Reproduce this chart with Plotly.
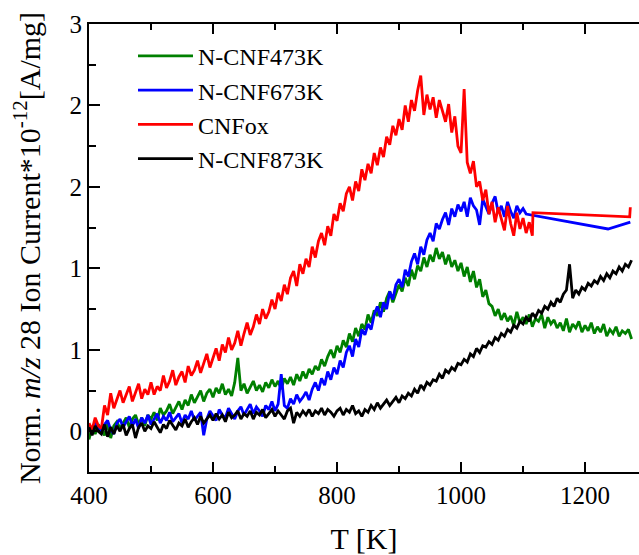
import plotly.graph_objects as go

# ---- data ----
T_START = 400
T_STEP = 5

red_cnfox = [
    0.06, 0.01, 0.10, 0.04, 0.02, 0.19, 0.12, 0.28, 0.17, 0.24,
    0.30, 0.21, 0.27, 0.33, 0.22, 0.29, 0.35, 0.24, 0.31, 0.27,
    0.36, 0.27, 0.33, 0.30, 0.41, 0.32, 0.37, 0.45, 0.34, 0.40,
    0.44, 0.36, 0.48, 0.41, 0.45, 0.52, 0.43, 0.50, 0.57, 0.47,
    0.55, 0.61, 0.52, 0.64, 0.58, 0.69, 0.60, 0.65, 0.74, 0.63,
    0.72, 0.80, 0.71, 0.77, 0.86, 0.79, 0.90, 0.83, 0.88, 0.97,
    0.90, 1.02, 0.96, 1.08, 1.01, 1.13, 1.18, 1.07, 1.23, 1.16,
    1.27, 1.21, 1.36, 1.28, 1.40, 1.46, 1.37, 1.51, 1.44, 1.60,
    1.55, 1.68, 1.62, 1.75, 1.80, 1.70, 1.84, 1.77, 1.93, 1.85,
    1.97, 1.90, 2.05, 1.96, 2.09, 2.02, 2.17, 2.11, 2.25, 2.18,
    2.30, 2.22, 2.40, 2.28, 2.44, 2.36, 2.51, 2.62, 2.33, 2.48,
    2.37, 2.46, 2.31, 2.44, 2.36, 2.28, 2.41, 2.20, 2.32, 2.10,
    2.05, 2.52, 1.98, 1.90, 1.99, 1.80, 1.84, 1.70, 1.78, 1.60,
    1.69, 1.54, 1.65, 1.57, 1.48, 1.66, 1.53, 1.44, 1.61, 1.49,
    1.57, 1.46, 1.54, 1.44,
]
red_tail_T = [1116, 1272, 1273]
red_tail_v = [1.61, 1.58, 1.65]

blue_673 = [
    0.04, -0.01, 0.07, 0.02, 0.00, 0.05, 0.08, 0.01, -0.02, 0.06,
    0.09, 0.03, 0.07, 0.11, 0.04, 0.09, 0.02, 0.10, 0.06, 0.12,
    0.05, 0.09, 0.13, 0.06, 0.11, 0.08, 0.14, 0.07, 0.10, 0.13,
    0.06, 0.12, 0.09, 0.15, 0.08, 0.11, 0.14, -0.03, 0.09, 0.15,
    0.11, 0.08, 0.16, 0.12, 0.10, 0.17, 0.13, 0.09, 0.15, 0.18,
    0.12, 0.16, 0.20, 0.13, 0.18, 0.15, 0.11, 0.19, 0.16, 0.22,
    0.15, 0.20, 0.42, 0.19, 0.17, 0.24, 0.20, 0.27, 0.22, 0.25,
    0.29, 0.23, 0.31, 0.36, 0.30, 0.39, 0.34, 0.44, 0.38, 0.47,
    0.42, 0.52, 0.47, 0.58, 0.63, 0.55, 0.68, 0.62, 0.75, 0.71,
    0.79, 0.75, 0.86, 0.92, 0.84, 0.95, 0.90, 1.03, 0.97, 1.08,
    1.12, 1.06, 1.19, 1.14, 1.25, 1.31, 1.23, 1.36, 1.30, 1.41,
    1.46, 1.40, 1.53, 1.49, 1.56, 1.61, 1.52, 1.64, 1.58, 1.67,
    1.62, 1.69, 1.58, 1.72, 1.66, 1.63, 1.52, 1.71, 1.65, 1.60,
    1.68, 1.73, 1.61, 1.66, 1.58, 1.69, 1.62, 1.57, 1.66, 1.61,
    1.64, 1.60,
]
blue_tail_T = [1237, 1273]
blue_tail_v = [1.49, 1.54]

green_473 = [
    -0.06, 0.03, -0.02, 0.05, 0.01, -0.03, 0.06, -0.05, 0.04, 0.07,
    0.02, 0.06, 0.10, 0.03, 0.09, 0.12, 0.05, 0.10, 0.04, 0.12,
    0.09, 0.14, 0.08, 0.17, 0.12, 0.15, 0.20, 0.13, 0.18, 0.22,
    0.16, 0.23, 0.19, 0.27, 0.21, 0.25, 0.30, 0.22, 0.28, 0.31,
    0.25, 0.32, 0.28, 0.35, 0.27, 0.31, 0.26, 0.36, 0.54, 0.30,
    0.35, 0.28, 0.33, 0.37, 0.30, 0.34, 0.29, 0.36, 0.32, 0.38,
    0.33, 0.37, 0.31, 0.39, 0.35, 0.40, 0.34, 0.42, 0.37, 0.44,
    0.39, 0.46, 0.42, 0.48, 0.45, 0.53, 0.48, 0.55, 0.60, 0.54,
    0.63, 0.58, 0.67, 0.62, 0.72, 0.66, 0.76, 0.70, 0.79, 0.75,
    0.86, 0.80, 0.89, 0.85, 0.95, 0.88, 0.98, 1.03, 0.95, 1.02,
    1.08, 1.03, 1.13, 1.07, 1.19, 1.12, 1.22, 1.18, 1.28, 1.21,
    1.30, 1.25, 1.35, 1.27, 1.32, 1.23, 1.30, 1.21, 1.26, 1.18,
    1.24, 1.14, 1.21, 1.10, 1.18, 1.06, 1.12, 0.99, 1.04, 0.94,
    0.92, 0.85, 0.90, 0.82, 0.87, 0.81, 0.85, 0.78, 0.88, 0.80,
    0.84, 0.79, 0.86, 0.77, 0.83, 0.81, 0.86, 0.76, 0.84, 0.79,
    0.82, 0.76, 0.80, 0.74, 0.83, 0.73, 0.79, 0.76, 0.81, 0.73,
    0.78, 0.74, 0.80, 0.72, 0.77, 0.73, 0.79, 0.70, 0.75, 0.72,
    0.77, 0.70, 0.74, 0.72, 0.75, 0.68,
]

black_873 = [
    0.03, -0.03, 0.04, 0.00, -0.02, 0.05, -0.04, 0.03, -0.02, 0.04,
    0.00, 0.05, -0.03, 0.02, 0.05, -0.05, 0.03, 0.06, 0.00, 0.04,
    0.02, 0.07, 0.03, -0.01, 0.05, 0.02, 0.08, 0.04, 0.01, 0.06,
    0.04, 0.09, 0.03, 0.07, 0.10, 0.05, 0.11, 0.06, 0.09, 0.12,
    0.08, 0.13, 0.09, 0.12, 0.07, 0.14, 0.10, 0.12, 0.15, 0.09,
    0.13, 0.11, 0.15, 0.09, 0.14, 0.12, 0.16, 0.10, 0.13, 0.16,
    0.11, 0.15, 0.12, 0.09, 0.15, 0.17, 0.06, 0.14, 0.11, 0.15,
    0.12, 0.16, 0.11, 0.15, 0.13, 0.17, 0.12, 0.16, 0.14, 0.11,
    0.15, 0.17, 0.12, 0.16, 0.14, 0.19, 0.13, 0.15, 0.11, 0.16,
    0.14, 0.19, 0.16, 0.21, 0.17, 0.20, 0.23, 0.19, 0.22, 0.25,
    0.21, 0.26, 0.24, 0.28, 0.26, 0.31, 0.28, 0.34, 0.31, 0.36,
    0.34, 0.38, 0.37, 0.42, 0.39, 0.45, 0.43, 0.47, 0.45, 0.50,
    0.49, 0.53, 0.51, 0.57, 0.55, 0.61, 0.58, 0.63, 0.62, 0.66,
    0.64, 0.69, 0.67, 0.72, 0.70, 0.75, 0.73, 0.78, 0.76, 0.81,
    0.79, 0.84, 0.81, 0.87, 0.84, 0.89, 0.87, 0.92, 0.90, 0.95,
    0.92, 0.98, 0.95, 1.01, 1.04, 1.23, 0.98, 1.04, 1.01, 1.06,
    1.04, 1.09, 1.07, 1.11, 1.09, 1.14, 1.11, 1.16, 1.13, 1.18,
    1.16, 1.21, 1.18, 1.23, 1.21, 1.26,
]

x_ticks = [400, 600, 800, 1000, 1200]
x_minor = [500, 700, 900, 1100]
y_tick_vals = [0, 0.6, 1.2, 1.8, 2.4, 3.0]
y_tick_text = ["0", "1", "1", "2", "2", "3"]
y_minor = [0.3, 0.9, 1.5, 2.1, 2.7]


def temps(vals):
    return [T_START + T_STEP * i for i in range(len(vals))]


series = [
    ("N-CNF473K", "#008000", temps(green_473), green_473),
    ("N-CNF673K", "#0000FF", temps(blue_673) + blue_tail_T, blue_673 + blue_tail_v),
    ("CNFox", "#FF0000", temps(red_cnfox) + red_tail_T, red_cnfox + red_tail_v),
    ("N-CNF873K", "#000000", temps(black_873), black_873),
]

FONT = "Liberation Serif, Times New Roman, serif"

fig = go.Figure()
for name, color, xs, ys in series:
    fig.add_trace(go.Scatter(x=xs, y=ys, mode="lines", name=name,
                             line=dict(color=color, width=2.8)))

fig.update_layout(
    width=639, height=555,
    margin=dict(l=89, r=0, t=24, b=83),
    paper_bgcolor="white", plot_bgcolor="white",
    font=dict(family=FONT, size=25, color="black"),
    showlegend=True,
    legend=dict(x=0.08, y=0.978, xanchor="left", yanchor="top",
                bgcolor="rgba(0,0,0,0)", font=dict(size=24),
                itemwidth=55, tracegroupgap=0),
)
fig.update_xaxes(
    range=[400, 1287], showgrid=False, zeroline=False,
    showline=True, linecolor="black", linewidth=2, mirror="ticks",
    ticks="inside", ticklen=10, tickwidth=2, tickcolor="black",
    tickmode="array", tickvals=x_ticks,
    minor=dict(tickmode="array", tickvals=x_minor, ticks="inside", ticklen=6, tickwidth=2, tickcolor="black"),
    title=dict(text="T [K]", standoff=22),
    tickfont=dict(size=25),
)
fig.update_yaxes(
    range=[-0.3, 3.0], showgrid=False, zeroline=False,
    showline=True, linecolor="black", linewidth=2,
    ticks="inside", ticklen=11, tickwidth=2, tickcolor="black",
    tickmode="array", tickvals=y_tick_vals, ticktext=y_tick_text,
    minor=dict(tickmode="array", tickvals=y_minor, ticks="inside", ticklen=7, tickwidth=2, tickcolor="black"),
    title=dict(text="Norm. <i>m/z</i> 28 Ion Current*10<sup>-12</sup>[A/mg]", standoff=20),
    tickfont=dict(size=25),
)

fig.write_html("out.html")
